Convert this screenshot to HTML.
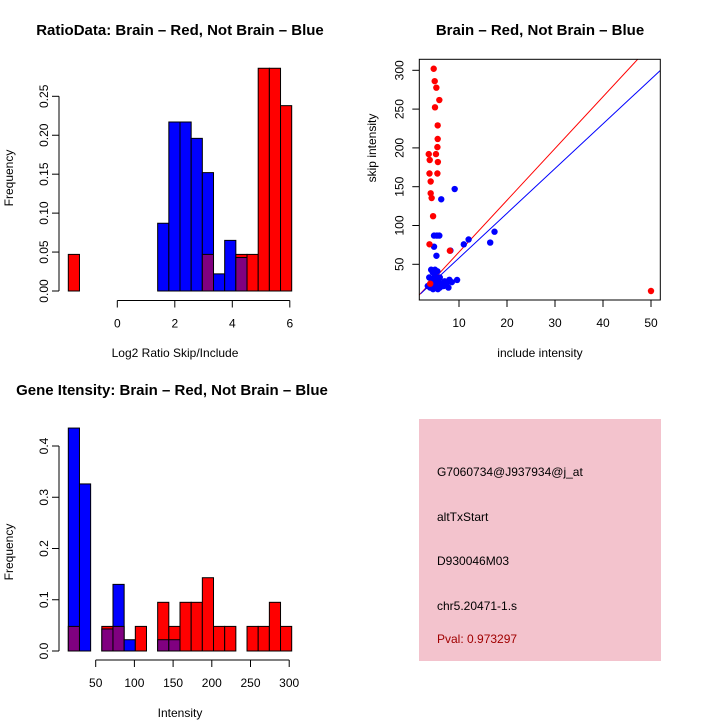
<!DOCTYPE html>
<html><head><meta charset="utf-8"><style>
html,body{margin:0;padding:0;background:#fff;}
svg{display:block;font-family:"Liberation Sans",sans-serif;}
</style></head><body>
<svg id="chart" width="720" height="720" viewBox="0 0 720 720">
<rect x="0" y="0" width="720" height="720" fill="#fff"/>
<g id="p1"></g>
<g id="p2"></g>
<g id="p3"></g>
<g id="p4">
<rect x="419" y="419" width="242" height="242" fill="#f3c3cd"/>
<text x="437" y="476" font-size="12" fill="#000">G7060734@J937934@j_at</text>
<text x="437" y="521" font-size="12" fill="#000">altTxStart</text>
<text x="437" y="565" font-size="12" fill="#000">D930046M03</text>
<text x="437" y="610" font-size="12" fill="#000">chr5.20471-1.s</text>
<text x="437" y="643" font-size="12" fill="#a00000">Pval: 0.973297</text>
</g>
</svg>
<script>
// ---- Data: Ratio histogram (20 bins) ----
const ratioRed  = [0.047,0,0,0,0,0,0,0,0,0,0,0,0.047,0,0,0.047,0.047,0.286,0.286,0.238];
const ratioBlue = [0,0,0,0,0,0,0,0,0.087,0.217,0.217,0.196,0.152,0.022,0.065,0.043,0,0,0,0];
const ratioYTicks = [0,0.05,0.10,0.15,0.20,0.25];
const ratioYLabels = ["0.00","0.05","0.10","0.15","0.20","0.25"];
const ratioXTicks = [0,2,4,6];
const ratioXLabels = ["0","2","4","6"];
// ---- Data: Gene intensity histogram (20 bins) ----
const intRed  = [0.048,0,0,0.048,0.048,0,0.048,0,0.095,0.048,0.095,0.095,0.143,0.048,0.048,0,0.048,0.048,0.095,0.048];
const intBlue = [0.435,0.326,0,0.043,0.13,0.022,0,0,0.022,0.022,0,0,0,0,0,0,0,0,0,0];
const intYTicks = [0,0.1,0.2,0.3,0.4];
const intYLabels = ["0.0","0.1","0.2","0.3","0.4"];
const intXTicks = [50,100,150,200,250,300];
const intXLabels = ["50","100","150","200","250","300"];
// ---- Data: scatter ----
const redX = [4.73,4.94,5.28,5.9,5.0,5.56,5.56,5.5,5.2,3.7,3.9,5.6,3.85,5.5,4.1,4.1,4.3,4.6,3.85,8.1,50.0,4.0];
const redY = [302,286,277.6,261.7,252.3,229,211.5,201,192,192,184.4,181.8,167,167,156.7,141.5,135.4,112,75.8,67.5,15.6,25];
const blueX = [9.1,6.3,4.8,5.4,5.9,4.8,5.3,8.2,11.0,12.0,16.5,17.4,9.6,3.8,4.2,4.5,5,5.5,4.3,4.8,5.2,5.6,4.6,6,6.5,7,7.5,8,8.5,3.5,4,5,6,5.8,4.9,6.8,7.8];
const blueY = [147,133.8,87,87,87,72.7,61,67.7,75.7,82,78,92,29.8,33,43,40,43,41,30,25,22,18,18,20,25,28,26,30,27,22,20,35,33,28,30,22,20];
const fitRed = [1.7,10.4,47.2,314];   // x0,y0,x1,y1
const fitBlue = [2.0,12,51.9,299.6];
const scXTicks = [10,20,30,40,50];
const scYTicks = [50,100,150,200,250,300];

const NS="http://www.w3.org/2000/svg";
function mk(parent,tag,attrs,text){const e=document.createElementNS(NS,tag);for(const k in attrs)e.setAttribute(k,attrs[k]);if(text!==undefined)e.textContent=text;parent.appendChild(e);return e;}

function histogram(g,red,blue,yScale,y0,bx0,bw){
  for(let i=0;i<red.length;i++){
    const r=red[i],b=blue[i];
    const x=bx0+i*bw;
    const hi=Math.max(r,b), lo=Math.min(r,b);
    if(hi>0){
      const e=mk(g,'rect',{x:x,y:yScale(hi),width:bw,height:y0-yScale(hi),fill:r>=b?'#ff0000':'#0000ff',stroke:'#000','stroke-width':1});
      
      
    }
    if(lo>0){
      const e=mk(g,'rect',{x:x,y:yScale(lo),width:bw,height:y0-yScale(lo),fill:'#800080',stroke:'#000','stroke-width':1});
      
      
    }
  }
}
function yAxis(g,ticks,labels,ys,x){
  const l=mk(g,'line',{x1:x,y1:ys(ticks[0]),x2:x,y2:ys(ticks[ticks.length-1]),stroke:'#000'});
  
  
  ticks.forEach((t,i)=>{
    const y=ys(t);
    mk(g,'line',{x1:x-7,y1:y,x2:x,y2:y,stroke:'#000'});
    const tx=mk(g,'text',{x:x-15,y:y,'font-size':12,'text-anchor':'middle',transform:`rotate(-90 ${x-15} ${y})`,'dominant-baseline':'central'},labels[i]);
    
    
  });
}
function xAxis(g,ticks,labels,xs,y){
  const l=mk(g,'line',{x1:xs(ticks[0]),y1:y,x2:xs(ticks[ticks.length-1]),y2:y,stroke:'#000'});
  
  
  ticks.forEach((t,i)=>{
    const x=xs(t);
    mk(g,'line',{x1:x,y1:y,x2:x,y2:y+7,stroke:'#000'});
    const tx=mk(g,'text',{x:x,y:y+27,'font-size':12,'text-anchor':'middle'},labels[i]);
    
    
  });
}
function label(g,txt,x,y,opts,name){
  const a=Object.assign({x:x,y:y,'font-size':12,'text-anchor':'middle'},opts||{});
  const t=mk(g,'text',a,txt);
  
  
}

// Panel 1
(function(){
  const g=document.getElementById('p1');
  const y0=291, ys=v=>y0-v*(194.7/0.25);
  const xs=v=>117.3+v*28.75;
  histogram(g,ratioRed,ratioBlue,ys,y0,68.3,11.17);
  yAxis(g,ratioYTicks,ratioYLabels,ys,59);
  xAxis(g,ratioXTicks,ratioXLabels,xs,300.5);
  label(g,'RatioData: Brain \u2013 Red, Not Brain \u2013 Blue',180,35,{'font-size':15,'font-weight':'bold'},'ratio-title');
  label(g,'Log2 Ratio Skip/Include',175,357,{},'ratio-x-title');
  label(g,'Frequency',13,178,{transform:'rotate(-90 13 178)'},'ratio-y-title');
})();

// Panel 2
(function(){
  const g=document.getElementById('p2');
  const xs=v=>459+(v-10)*4.8, ys=v=>264.3-(v-50)*0.776;
  const L=419.3,R=660.3,T=59.3,B=300;
  const cp=mk(g,'clipPath',{id:'sc'}); mk(cp,'rect',{x:L,y:T,width:R-L,height:B-T});
  const pg=mk(g,'g',{'clip-path':'url(#sc)'});
  const lr=mk(pg,'line',{x1:xs(fitRed[0]),y1:ys(fitRed[1]),x2:xs(fitRed[2]),y2:ys(fitRed[3]),stroke:'#ff0000','stroke-width':1});
  
  
  const lb=mk(pg,'line',{x1:xs(fitBlue[0]),y1:ys(fitBlue[1]),x2:xs(fitBlue[2]),y2:ys(fitBlue[3]),stroke:'#0000ff','stroke-width':1});
  
  
  blueX.forEach((x,i)=>{const c=mk(pg,'circle',{cx:xs(x),cy:ys(blueY[i]),r:3.2,fill:'#0000ff'});
    
    });
  redX.forEach((x,i)=>{const c=mk(pg,'circle',{cx:xs(x),cy:ys(redY[i]),r:3.2,fill:'#ff0000'});
    
    });
  const f=mk(g,'rect',{x:L,y:T,width:R-L,height:B-T,fill:'none',stroke:'#000'});
  
  
  scXTicks.forEach(t=>{const x=xs(t);mk(g,'line',{x1:x,y1:B,x2:x,y2:B+7,stroke:'#000'});
    const tx=mk(g,'text',{x:x,y:B+27,'font-size':12,'text-anchor':'middle'},String(t));
    
    });
  scYTicks.forEach(t=>{const y=ys(t);mk(g,'line',{x1:L-7,y1:y,x2:L,y2:y,stroke:'#000'});
    const tx=mk(g,'text',{x:L-20,y:y,'font-size':12,'text-anchor':'middle','dominant-baseline':'central',transform:`rotate(-90 ${L-20} ${y})`},String(t));
    
    });
  label(g,'Brain \u2013 Red, Not Brain \u2013 Blue',540,35,{'font-size':15,'font-weight':'bold'},'scatter-title');
  label(g,'include intensity',540,357,{},'scatter-x-title');
  label(g,'skip intensity',376,148,{transform:'rotate(-90 376 148)'},'scatter-y-title');
})();

// Panel 3
(function(){
  const g=document.getElementById('p3');
  const y0=651, ys=v=>y0-v*512.5;
  const xs=v=>95.7+(v-50)*0.774;
  histogram(g,intRed,intBlue,ys,y0,68.3,11.17);
  yAxis(g,intYTicks,intYLabels,ys,59);
  xAxis(g,intXTicks,intXLabels,xs,660);
  label(g,'Gene Itensity: Brain \u2013 Red, Not Brain \u2013 Blue',172,395,{'font-size':15,'font-weight':'bold'},'intensity-title');
  label(g,'Intensity',180,717,{},'intensity-x-title');
  label(g,'Frequency',13,552,{transform:'rotate(-90 13 552)'},'intensity-y-title');
})();
</script>
</body></html>
